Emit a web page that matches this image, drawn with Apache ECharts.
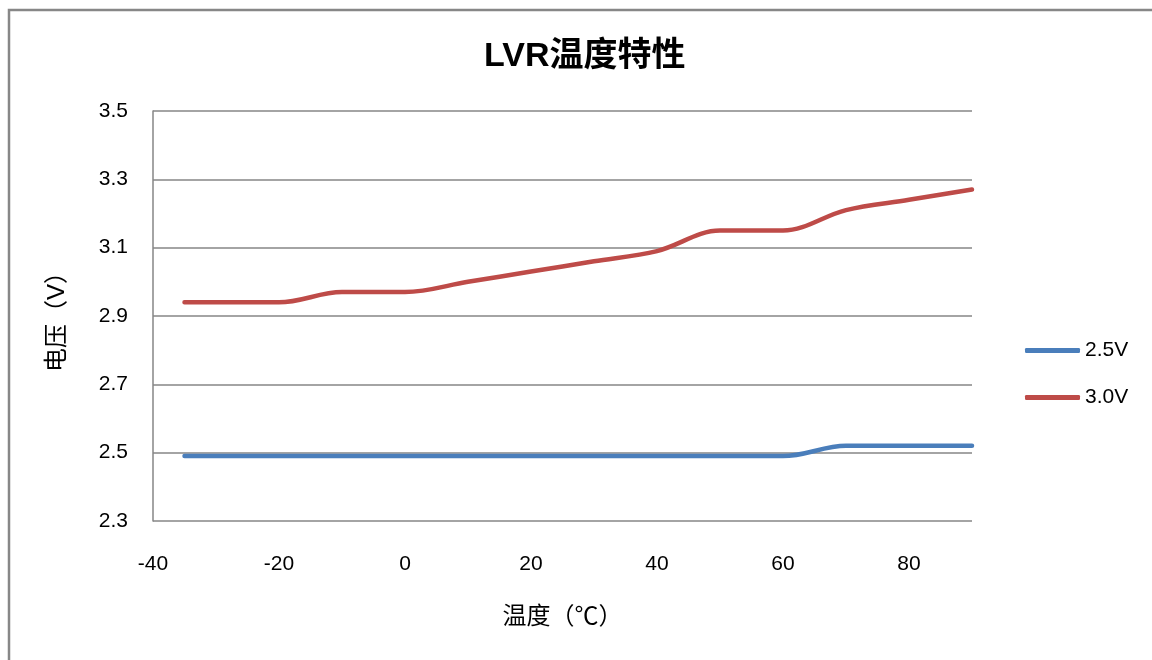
<!DOCTYPE html>
<html>
<head>
<meta charset="utf-8">
<script src="https://cdn.jsdelivr.net/npm/echarts@6/dist/echarts.min.js"></script>
<style>
html,body{margin:0;padding:0;background:#fff;}
#chart{width:1152px;height:660px;}
</style>
</head>
<body>
<div id="chart"></div>
<script>
const temps = [-35, -20, -10, 0, 10, 20, 30, 40, 50, 60, 70, 80, 90];
const v25 = [2.49, 2.49, 2.49, 2.49, 2.49, 2.49, 2.49, 2.49, 2.49, 2.49, 2.52, 2.52, 2.52];
const v30 = [2.94, 2.94, 2.97, 2.97, 3.00, 3.03, 3.06, 3.09, 3.15, 3.15, 3.21, 3.24, 3.27];
const seriesNames = ['2.5V', '3.0V'];
const titleText = 'LVR温度特性';
const xName = '温度（℃）';
const yName = '电压（V）';

const FONT = "'Liberation Sans', 'Noto Sans CJK SC', sans-serif";
const chart = echarts.init(document.getElementById('chart'));
const pair = (ys) => temps.map((t, i) => [t, ys[i]]);

chart.setOption({
  backgroundColor: '#fff',
  animation: false,
  graphic: [{
    type: 'rect', left: 6.5, top: 7.5, silent: true,
    shape: { x: 0, y: 0, width: 1200, height: 700 },
    style: { fill: 'none', stroke: '#878787', lineWidth: 2.5 }
  }],
  title: {
    text: titleText, left: 479, top: 35,
    textStyle: { fontFamily: FONT, fontSize: 34, fontWeight: 'bold', color: '#000' }
  },
  grid: { left: 153, right: 180, top: 111, bottom: 139, containLabel: false },
  legend: {
    orient: 'vertical', left: 1020, top: 335, itemWidth: 55, itemHeight: 5, itemGap: 26,
    icon: 'roundRect',
    textStyle: { fontFamily: FONT, fontSize: 21, color: '#000' },
    data: seriesNames
  },
  xAxis: {
    type: 'value', min: -40, max: 90, interval: 20,
    name: xName, nameLocation: 'middle', nameGap: 84,
    nameTextStyle: { fontFamily: FONT, fontSize: 24, color: '#000' },
    axisLine: { show: false }, axisTick: { show: false }, splitLine: { show: false },
    axisLabel: { fontFamily: FONT, fontSize: 21, color: '#000', margin: 33,
      formatter: v => (v === 90 ? '' : String(v)) }
  },
  yAxis: {
    type: 'value', min: 2.3, max: 3.5, interval: 0.1,
    name: yName, nameLocation: 'middle', nameGap: 84, nameRotate: 90,
    nameTextStyle: { fontFamily: FONT, fontSize: 24, color: '#000' },
    axisLine: { show: true, onZero: false, lineStyle: { color: '#868686', width: 1.5 } },
    axisTick: { show: false },
    splitLine: { show: true, lineStyle: { color: ['#868686', 'rgba(0,0,0,0)'], width: 1.5 } },
    axisLabel: { fontFamily: FONT, fontSize: 21, color: '#000', margin: 25,
      formatter: v => (Math.round(v * 10) % 2 === 1 ? v.toFixed(1) : '') }
  },
  series: [
    { name: seriesNames[0], type: 'line', data: pair(v25), smooth: 0.35, showSymbol: false, symbol: 'none',
      color: '#4A7EBB', lineStyle: { color: '#4A7EBB', width: 4.5, cap: 'round' } },
    { name: seriesNames[1], type: 'line', data: pair(v30), smooth: 0.35, showSymbol: false, symbol: 'none',
      color: '#BE4B48', lineStyle: { color: '#BE4B48', width: 4.5, cap: 'round' } }
  ]
});
</script>
</body>
</html>
